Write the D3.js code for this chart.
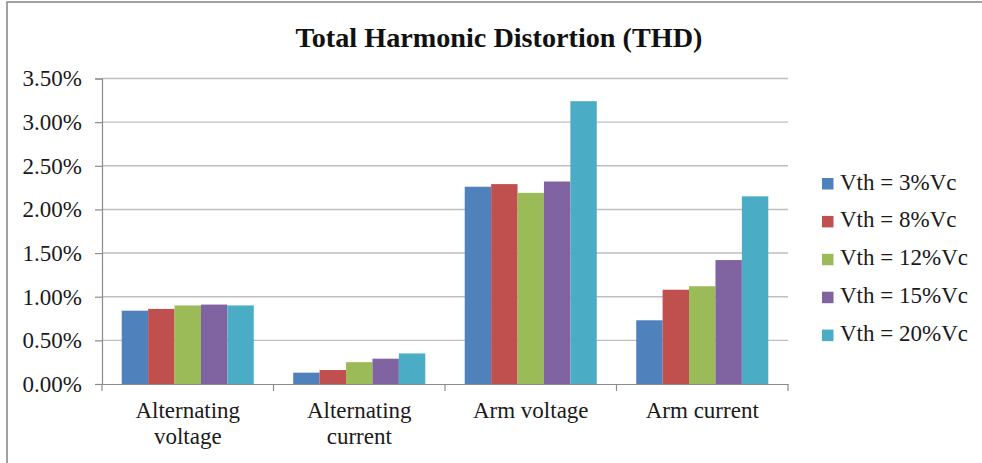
<!DOCTYPE html>
<html>
<head>
<meta charset="utf-8">
<script src="https://cdn.jsdelivr.net/npm/d3@7"></script>
<style>
  html, body { margin: 0; padding: 0; background: #fff; }
  svg { display: block; }
</style>
</head>
<body>
<svg id="chart" width="982" height="463"></svg>
<script>
// THD results per measured quantity, one series per threshold voltage setting
const categories = [["Alternating", "voltage"], ["Alternating", "current"], ["Arm voltage"], ["Arm current"]];
const seriesNames = ["Vth = 3%Vc", "Vth = 8%Vc", "Vth = 12%Vc", "Vth = 15%Vc", "Vth = 20%Vc"];
const seriesColors = ["#4F81BD", "#C0504D", "#9BBB59", "#8064A2", "#4BACC6"];
const vth3  = [0.0084, 0.0013, 0.0226, 0.0073];
const vth8  = [0.0086, 0.0016, 0.0229, 0.0108];
const vth12 = [0.0090, 0.0025, 0.0219, 0.0112];
const vth15 = [0.0091, 0.0029, 0.0232, 0.0142];
const vth20 = [0.0090, 0.0035, 0.0324, 0.0215];
const yTicks = [0, 0.005, 0.01, 0.015, 0.02, 0.025, 0.03, 0.035];

const series = [vth3, vth8, vth12, vth15, vth20];
const catKeys = categories.map(c => c.join(" "));
const serif = "'Liberation Serif', 'Times New Roman', serif";
const ink = "#1a1a1a";

const svg = d3.select("#chart");

// outer chart frame (left and top edges visible)
svg.append("rect")
  .attr("x", 7).attr("y", 2)
  .attr("width", 1000).attr("height", 500)
  .attr("fill", "none")
  .attr("stroke", "#8a8a8a")
  .attr("stroke-width", 1.6);

const plotLeft = 102, plotRight = 788, plotTop = 78.5, plotBottom = 384;

const y = d3.scaleLinear().domain([0, 0.035]).range([plotBottom, plotTop]);
const x0 = d3.scaleBand().domain(catKeys).range([plotLeft, plotRight])
  .paddingInner(0.23).paddingOuter(0.115);
const x1 = d3.scaleBand().domain(d3.range(series.length)).range([0, x0.bandwidth()]);

// gridlines
svg.append("g")
  .selectAll("line")
  .data(yTicks.slice(1))
  .join("line")
  .attr("x1", plotLeft).attr("x2", plotRight)
  .attr("y1", d => y(d)).attr("y2", d => y(d))
  .attr("stroke", "#bfbfbf")
  .attr("stroke-width", 1.4);

// y axis
const yAxis = svg.append("g")
  .attr("transform", `translate(${plotLeft},0)`)
  .call(d3.axisLeft(y).tickValues(yTicks).tickFormat(d3.format(".2%")).tickSize(7).tickPadding(13));
yAxis.attr("font-family", serif);
yAxis.select(".domain").attr("stroke", "#8c8c8c").attr("stroke-width", 1.2);
yAxis.selectAll(".tick line").attr("stroke", "#8c8c8c").attr("stroke-width", 1.2);
yAxis.selectAll(".tick text")
  .attr("font-size", 23)
  .style("font-family", serif)
  .attr("fill", ink);

// bars
const groups = svg.append("g")
  .selectAll("g")
  .data(catKeys)
  .join("g")
  .attr("transform", d => `translate(${x0(d)},0)`);

groups.selectAll("rect")
  .data((d, i) => series.map((s, k) => ({ k, v: s[i] })))
  .join("rect")
  .attr("x", d => x1(d.k))
  .attr("width", x1.bandwidth())
  .attr("y", d => y(d.v))
  .attr("height", d => y(0) - y(d.v))
  .attr("fill", d => seriesColors[d.k]);

// x axis: baseline, category labels at centres, tick marks between categories
const xAxis = svg.append("g")
  .attr("transform", `translate(0,${plotBottom})`)
  .call(d3.axisBottom(x0).tickSize(0).tickFormat(""));
xAxis.attr("font-family", serif);
xAxis.select(".domain").attr("stroke", "#8c8c8c").attr("stroke-width", 1.2);

const step = x0.step();
xAxis.selectAll(".sep")
  .data(d3.range(catKeys.length + 1))
  .join("line")
  .attr("class", "sep")
  .attr("x1", i => plotLeft + i * step).attr("x2", i => plotLeft + i * step)
  .attr("y1", 0).attr("y2", 7)
  .attr("stroke", "#8c8c8c").attr("stroke-width", 1.2);

xAxis.selectAll(".tick").each(function (d, i) {
  const t = d3.select(this).append("text")
    .attr("text-anchor", "middle")
    .style("font-family", serif)
    .attr("font-size", 23)
    .attr("fill", ink)
    .attr("y", 34);
  categories[i].forEach((line, j) => {
    t.append("tspan").attr("x", 0).attr("dy", j === 0 ? 0 : 25.5).text(line);
  });
});

// title
svg.append("text")
  .attr("x", 499).attr("y", 47)
  .attr("text-anchor", "middle")
  .style("font-family", serif)
  .attr("font-size", 28.2)
  .attr("font-weight", "bold")
  .attr("fill", "#111")
  .text("Total Harmonic Distortion (THD)");

// legend
const legend = svg.append("g")
  .selectAll("g")
  .data(seriesNames)
  .join("g")
  .attr("transform", (d, i) => `translate(822,${189.5 + i * 37.9})`);
legend.append("rect")
  .attr("x", 0).attr("y", -11.5)
  .attr("width", 11.5).attr("height", 11.5)
  .attr("fill", (d, i) => seriesColors[i]);
legend.append("text")
  .attr("x", 18).attr("y", 0)
  .style("font-family", serif)
  .attr("font-size", 23)
  .attr("fill", ink)
  .text(d => d);
</script>
</body>
</html>
